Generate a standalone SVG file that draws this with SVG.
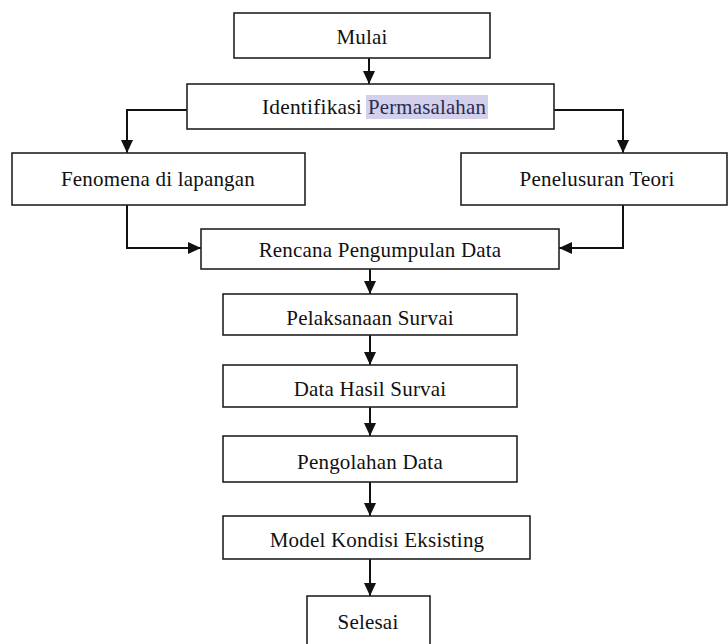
<svg xmlns="http://www.w3.org/2000/svg" width="728" height="644" viewBox="0 0 728 644">
<style>
.box{fill:#fff;stroke:#222;stroke-width:1.6}
.lbl{font-family:"Liberation Serif","Times New Roman",serif;font-size:21px;fill:#111;text-anchor:middle;letter-spacing:0.2px}
.con{fill:none;stroke:#111;stroke-width:2}
</style>
<defs>
<marker id="ah" markerWidth="13" markerHeight="12" refX="13" refY="6" orient="auto" markerUnits="userSpaceOnUse">
<path d="M0,0 L13,6 L0,12 z" fill="#111"/>
</marker>
</defs>
<rect width="728" height="644" fill="#fff"/>
<g id="connectors">
<path class="con" d="M369,58 V84" marker-end="url(#ah)"/>
<path class="con" d="M187,110 H127 V153" marker-end="url(#ah)"/>
<path class="con" d="M554,110 H623 V153" marker-end="url(#ah)"/>
<path class="con" d="M127,205 V248 H201" marker-end="url(#ah)"/>
<path class="con" d="M623,205 V248 H559" marker-end="url(#ah)"/>
<path class="con" d="M370,269 V294" marker-end="url(#ah)"/>
<path class="con" d="M370,335 V365" marker-end="url(#ah)"/>
<path class="con" d="M370,407 V436" marker-end="url(#ah)"/>
<path class="con" d="M370,482 V516" marker-end="url(#ah)"/>
<path class="con" d="M370,559 V596" marker-end="url(#ah)"/>
</g>
<g id="mulai"><rect class="box" x="234" y="13" width="256" height="45"/><text class="lbl" x="362" y="44">Mulai</text></g>
<g id="identifikasi"><rect class="box" x="187" y="84" width="367" height="45"/><rect x="366" y="95" width="122" height="24" fill="#d2d0ea"/><text class="lbl" x="262" y="114" style="text-anchor:start" textLength="100" lengthAdjust="spacingAndGlyphs">Identifikasi</text><text class="lbl" x="368" y="114" style="text-anchor:start;fill:#2b2b4f" textLength="118" lengthAdjust="spacingAndGlyphs">Permasalahan</text></g>
<g id="fenomena"><rect class="box" x="12" y="153" width="293" height="52"/><text class="lbl" x="158" y="186">Fenomena di lapangan</text></g>
<g id="penelusuran"><rect class="box" x="461" y="153" width="266" height="52"/><text class="lbl" x="597" y="186">Penelusuran Teori</text></g>
<g id="rencana"><rect class="box" x="201" y="229" width="358" height="40"/><text class="lbl" x="380" y="257">Rencana Pengumpulan Data</text></g>
<g id="pelaksanaan"><rect class="box" x="223" y="294" width="294" height="41"/><text class="lbl" x="370" y="325">Pelaksanaan Survai</text></g>
<g id="datahasil"><rect class="box" x="223" y="365" width="294" height="42"/><text class="lbl" x="370" y="396">Data Hasil Survai</text></g>
<g id="pengolahan"><rect class="box" x="223" y="436" width="294" height="46"/><text class="lbl" x="370" y="469">Pengolahan Data</text></g>
<g id="model"><rect class="box" x="223" y="516" width="307" height="43"/><text class="lbl" x="377" y="547">Model Kondisi Eksisting</text></g>
<g id="selesai"><rect class="box" x="307" y="596" width="123" height="60"/><text class="lbl" x="368" y="629">Selesai</text></g>
</svg>
